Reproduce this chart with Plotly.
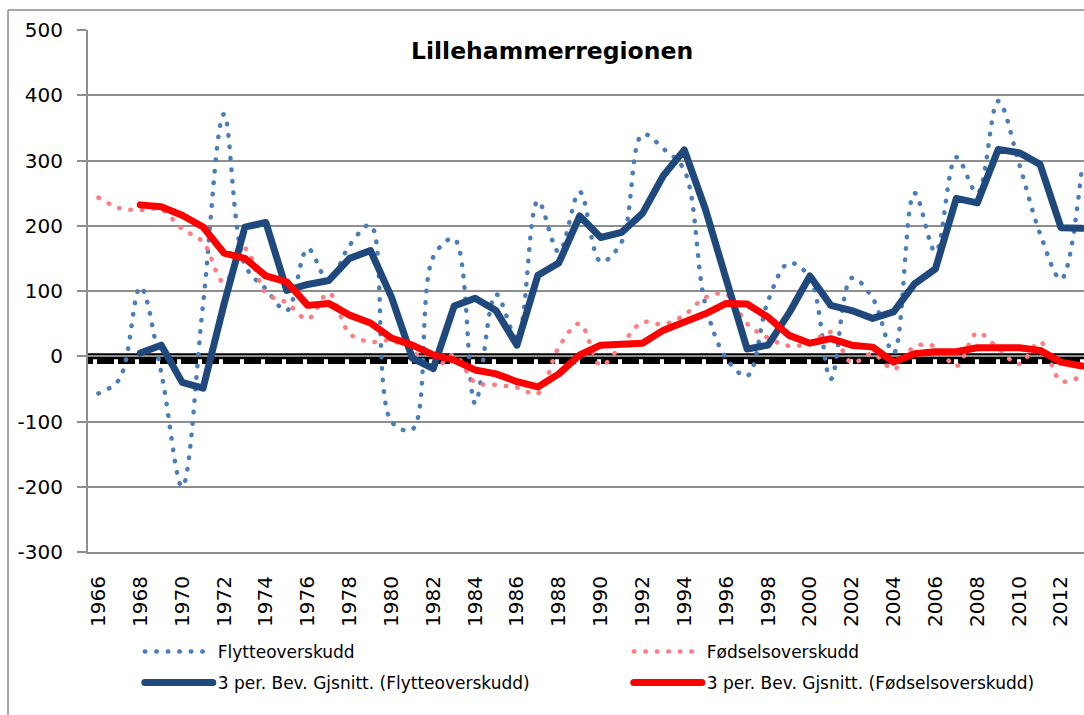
import plotly.graph_objects as go

years = list(range(1966, 2014))
ma_years = list(range(1968, 2014))

flytte = [-57, -35, 106, -25, -200, 80, 371, 140, 103, 70,
          165, 115, 170, 201, -100, -112, 152, 180, -72, 95,
          28, 238, 160, 252, 145, 175, 340, 318, 285, 80,
          -3, -30, 85, 143, 120, -35, 120, 89, 5, 250,
          160, 305, 250, 391, 295, 188, 118, 290]

fodsel = [243, 227, 224, 225, 195, 175, 113, 165, 97, 82,
          57, 97, 35, 22, 24, 8, -20, 2, -40, -44,
          -48, -57, 14, 50, -14, 18, 52, 49, 63, 90,
          95, 50, 28, 16, 20, 37, -10, 4, -20, 15,
          15, -15, 36, 12, -12, 22, -38, -30]

ma_flytte = [5, 17, -40, -49, 80, 198, 205, 101, 110, 116,
             150, 162, 91, -3, -19, 77, 89, 70, 17, 124,
             143, 215, 182, 190, 219, 277, 316, 226, 118, 11,
             17, 66, 123, 78, 70, 58, 68, 111, 134, 242,
             235, 317, 312, 294, 197, 196]

ma_fodsel = [232, 229, 216, 198, 158, 150, 123, 114, 78, 81,
             63, 51, 28, 17, 2, -6, -21, -27, -39, -47,
             -27, 2, 17, 18, 20, 40, 53, 65, 81, 80,
             60, 32, 20, 27, 17, 14, -9, 4, 7, 7,
             13, 12, 13, 9, -9, -15]

x_tick_vals = list(range(1966, 2013, 2))
y_tick_vals = [-300, -200, -100, 0, 100, 200, 300, 400, 500]
y_tick_text = ["-300", "-200", "-100", "0", "100", "200", "300", "400", "500"]

title_text = "Lillehammerregionen"
names = ["Flytteoverskudd", "Fødselsoverskudd",
         "3 per. Bev. Gjsnitt. (Flytteoverskudd)",
         "3 per. Bev. Gjsnitt. (Fødselsoverskudd)"]

FONT = "DejaVu Sans"
GRID = "#8e8e8e"

fig = go.Figure()
fig.add_trace(go.Scatter(x=years, y=flytte, mode="lines", name=names[0],
                         line=dict(color="#4a7ebb", width=4.5, dash="0.5px,11px",
                                   shape="spline", smoothing=1.0),
                         legend="legend"))
fig.add_trace(go.Scatter(x=years, y=fodsel, mode="lines", name=names[1],
                         line=dict(color="#ff7c80", width=4.5, dash="0.5px,11px",
                                   shape="spline", smoothing=1.0),
                         legend="legend2"))
fig.add_trace(go.Scatter(x=ma_years, y=ma_flytte, mode="lines", name=names[2],
                         line=dict(color="#1f497d", width=7), legend="legend3"))
fig.add_trace(go.Scatter(x=ma_years, y=ma_fodsel, mode="lines", name=names[3],
                         line=dict(color="#ff0000", width=7), legend="legend4"))

# zero reference lines
fig.add_shape(type="line", xref="paper", x0=0, x1=1, yref="y", y0=0, y1=0,
              line=dict(color="black", width=6), layer="between")
fig.add_shape(type="line", xref="paper", x0=0, x1=1, yref="y", y0=-8, y1=-8,
              line=dict(color="black", width=5, dash="5px,4px,12px,0px"), layer="between")

# chart-area border (left and top)
fig.add_shape(type="line", xref="paper", yref="paper", x0=-0.0803, x1=-0.0803,
              y0=-0.35, y1=1.0383, line=dict(color="#8a8a8a", width=1.5))
fig.add_shape(type="line", xref="paper", yref="paper", x0=-0.0803, x1=1.05,
              y0=1.0383, y1=1.0383, line=dict(color="#8a8a8a", width=1.5))

fig.add_annotation(text="<b>" + title_text + "</b>", xref="paper", yref="paper",
                   x=0.466, y=0.96, xanchor="center", yanchor="middle", showarrow=False,
                   font=dict(family=FONT, size=23.5, color="black"))

leg_common = dict(orientation="h", xanchor="left", yanchor="middle", itemwidth=68,
                  font=dict(family=FONT, size=17, color="black"),
                  bgcolor="rgba(0,0,0,0)")
col1 = 0.052
col2 = 0.543
row1 = -0.1916
row2 = -0.251

fig.update_layout(
    width=1084, height=715,
    margin=dict(l=88, r=0, t=30, b=163),
    paper_bgcolor="white", plot_bgcolor="white",
    showlegend=True,
    legend=dict(**leg_common, x=col1, y=row1),
    legend2=dict(**leg_common, x=col2, y=row1),
    legend3=dict(**leg_common, x=col1, y=row2),
    legend4=dict(**leg_common, x=col2, y=row2),
    xaxis=dict(range=[1965.5, 2013.1], tickmode="array", tickvals=x_tick_vals,
               tickangle=-90, showgrid=False, zeroline=False,
               showline=True, linecolor=GRID, linewidth=2, ticks="",
               ticklabelstandoff=14,
               tickfont=dict(family=FONT, size=20, color="black")),
    yaxis=dict(range=[-300, 500], tickmode="array", tickvals=y_tick_vals,
               ticktext=y_tick_text, showgrid=True, gridcolor=GRID, gridwidth=2,
               zeroline=False, showline=True, linecolor=GRID, linewidth=2,
               ticks="outside", ticklen=9, tickcolor=GRID, tickwidth=2,
               ticklabelstandoff=10,
               tickfont=dict(family=FONT, size=20, color="black")),
)

css = ("document.body.style.margin='0';"
       "var s=document.createElement('style');"
       "s.innerHTML='body{margin:0;overflow:hidden;} path.js-line{stroke-linecap:round;stroke-linejoin:round;}';"
       "document.head.appendChild(s);")
fig.write_html("out.html", post_script=css, config={"displayModeBar": False})
